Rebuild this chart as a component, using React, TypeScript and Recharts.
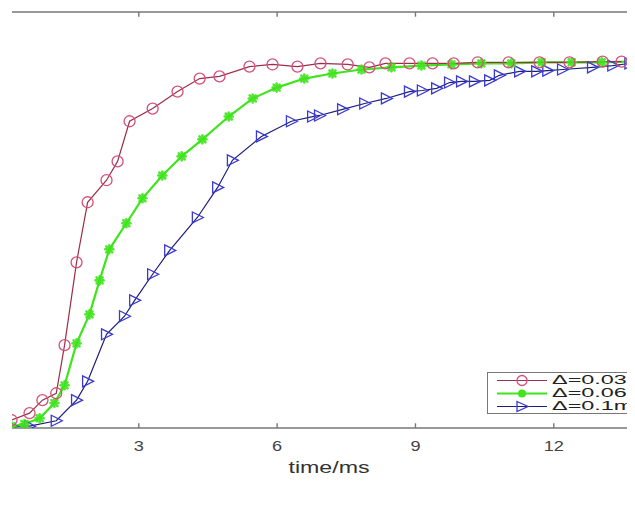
import React from "react";
import { LineChart, Line, XAxis, YAxis, ReferenceLine } from "recharts";

// step response for three sampling intervals
const xRed = [0.24, 0.63, 0.91, 1.21, 1.39, 1.65, 1.89, 2.3, 2.54, 2.8, 3.3, 3.84, 4.32, 4.75, 5.4, 5.9, 6.44, 6.94, 7.53, 8.0, 8.35, 8.87, 9.37, 9.83, 10.35, 11.02, 11.69, 12.34, 13.06, 13.47];
const yRed = [0.017, 0.036, 0.072, 0.091, 0.224, 0.453, 0.619, 0.68, 0.732, 0.843, 0.878, 0.925, 0.961, 0.967, 0.994, 1.0, 0.994, 1.003, 1.0, 0.992, 1.003, 1.003, 1.003, 1.003, 1.006, 1.006, 1.006, 1.006, 1.008, 1.008];

const xGreen = [0.24, 0.52, 0.85, 1.17, 1.39, 1.65, 1.93, 2.15, 2.36, 2.73, 3.08, 3.51, 3.93, 4.38, 4.95, 5.47, 5.99, 6.59, 7.2, 7.83, 8.48, 9.13, 9.78, 10.43, 11.08, 11.74, 12.39, 13.04, 13.69];
const yGreen = [0.0, 0.006, 0.022, 0.064, 0.113, 0.229, 0.309, 0.403, 0.489, 0.561, 0.63, 0.693, 0.746, 0.793, 0.856, 0.906, 0.936, 0.961, 0.975, 0.986, 0.992, 0.997, 1.0, 1.003, 1.003, 1.006, 1.006, 1.006, 1.008];

const xBlue = [0.24, 0.63, 1.21, 1.65, 1.89, 2.3, 2.69, 2.91, 3.3, 3.67, 4.27, 4.71, 5.03, 5.66, 6.31, 6.77, 6.92, 7.42, 7.9, 8.37, 8.87, 9.15, 9.46, 9.74, 10.0, 10.28, 10.61, 10.82, 11.26, 11.63, 11.87, 12.19, 12.84, 13.28, 13.65];
const yBlue = [0.0, 0.0, 0.015, 0.072, 0.124, 0.254, 0.304, 0.348, 0.42, 0.486, 0.577, 0.66, 0.735, 0.801, 0.843, 0.856, 0.859, 0.876, 0.892, 0.906, 0.925, 0.928, 0.934, 0.95, 0.953, 0.953, 0.956, 0.97, 0.981, 0.981, 0.983, 0.986, 0.992, 0.997, 1.003];

const xTicks = [3, 6, 9, 12];
const seriesNames = ["Δ=0.03ms", "Δ=0.06ms", "Δ=0.1ms"];

const X_DOMAIN: [number, number] = [0.25, 14];
const Y_DOMAIN: [number, number] = [-0.005, 1.145];
const TICK_LEN = 0.013; // inward tick length in y units (~5px)

const toRows = (xs: number[], ys: number[]) => xs.map((t, i) => ({ t, v: ys[i] }));

const FONT = "'Liberation Sans', Arial, sans-serif";
const AXIS = "#777";
const RED_LINE = "#9a2f48";
const RED_MARK = "#d4507a";
const GREEN = "#3fe41c";
const BLUE_LINE = "#1d1d7a";
const BLUE_MARK = "#3a3ad0";

const circleDot = (p: any) => (
  <circle key={`r${p.index}`} cx={p.cx} cy={p.cy} r={5.5} fill="none" stroke={RED_MARK} strokeWidth={1.3} />
);

const starDot = (p: any) => (
  <g key={`g${p.index}`} stroke={GREEN} strokeWidth={2.6} strokeLinecap="round" opacity={0.9}>
    <line x1={p.cx - 4} y1={p.cy} x2={p.cx + 4} y2={p.cy} />
    <line x1={p.cx} y1={p.cy - 4} x2={p.cx} y2={p.cy + 4} />
    <line x1={p.cx - 3} y1={p.cy - 3} x2={p.cx + 3} y2={p.cy + 3} />
    <line x1={p.cx - 3} y1={p.cy + 3} x2={p.cx + 3} y2={p.cy - 3} />
  </g>
);

const triDot = (p: any) => (
  <polygon
    key={`b${p.index}`}
    points={`${p.cx - 5},${p.cy - 5.5} ${p.cx + 6},${p.cy} ${p.cx - 5},${p.cy + 5.5}`}
    fill="none"
    stroke={BLUE_MARK}
    strokeWidth={1.3}
  />
);

// the figure is stretched sideways, so the text is too
const WideTick = (p: any) => (
  <g transform={`translate(${p.x},${p.y})`}>
    <text transform="scale(1.3,1)" x={0} y={0} dy={12} textAnchor="middle" fontSize={14} fill="#444" fontFamily={FONT}>
      {p.payload.value}
    </text>
  </g>
);

const WideLabel = (p: any) => {
  const vb = p.viewBox;
  return (
    <g transform={`translate(${vb.x + vb.width / 2},${vb.y + 45})`}>
      <text transform="scale(1.45,1)" textAnchor="middle" fontSize={16} fill="#333" fontFamily={FONT}>
        time/ms
      </text>
    </g>
  );
};

function LegendBox() {
  const rows = [
    { name: seriesNames[0], line: RED_LINE, mark: <circle cx={25} cy={6.5} r={5} fill="none" stroke={RED_MARK} strokeWidth={1.3} /> },
    { name: seriesNames[1], line: GREEN, mark: <circle cx={25} cy={6.5} r={4} fill={GREEN} /> },
    { name: seriesNames[2], line: BLUE_LINE, mark: <polygon points="20,1.5 31,6.5 20,11.5" fill="none" stroke={BLUE_MARK} strokeWidth={1.3} /> },
  ];
  return (
    <div
      style={{
        position: "absolute",
        left: 487,
        top: 372,
        width: 190,
        height: 42,
        border: "1.5px solid #777",
        background: "#fff",
        boxSizing: "border-box",
        padding: "1px 0 0 9px",
        fontFamily: FONT,
        fontSize: 12,
        color: "#222",
        lineHeight: "13px",
      }}
    >
      {rows.map((r) => (
        <div key={r.name} style={{ display: "flex", alignItems: "center", height: 13 }}>
          <svg width={50} height={13}>
            <line x1={0} y1={6.5} x2={50} y2={6.5} stroke={r.line} strokeWidth={r.line === GREEN ? 2 : 1.2} />
            {r.mark}
          </svg>
          <span
            style={{
              marginLeft: 5,
              display: "inline-block",
              whiteSpace: "nowrap",
              transform: "scaleX(1.95)",
              transformOrigin: "left center",
            }}
          >
            {r.name}
          </span>
        </div>
      ))}
    </div>
  );
}

export default function App() {
  return (
    <div style={{ margin: -8, width: 635, height: 508, overflow: "hidden", position: "relative", background: "#fff" }}>
      <LineChart width={660} height={508} margin={{ top: 12, right: 14, left: 12, bottom: 20 }}>
        <XAxis
          xAxisId="b"
          type="number"
          dataKey="t"
          domain={X_DOMAIN}
          ticks={xTicks}
          allowDataOverflow
          height={60}
          tickSize={0}
          tickMargin={11}
          axisLine={false}
          tickLine={false}
          tick={WideTick}
          label={WideLabel}
        />
        <YAxis hide type="number" domain={Y_DOMAIN} allowDataOverflow />
        {/* box frame: bottom and top axes */}
        <ReferenceLine xAxisId="b" y={Y_DOMAIN[0]} stroke={AXIS} strokeWidth={1.6} ifOverflow="visible" />
        <ReferenceLine xAxisId="b" y={Y_DOMAIN[1]} stroke={AXIS} strokeWidth={1.6} ifOverflow="visible" />
        {xTicks.map((t) => (
          <ReferenceLine
            key={`bt${t}`}
            xAxisId="b"
            segment={[{ x: t, y: Y_DOMAIN[0] }, { x: t, y: Y_DOMAIN[0] + TICK_LEN }]}
            stroke={AXIS}
            strokeWidth={1.4}
            ifOverflow="visible"
          />
        ))}
        {xTicks.map((t) => (
          <ReferenceLine
            key={`tt${t}`}
            xAxisId="b"
            segment={[{ x: t, y: Y_DOMAIN[1] }, { x: t, y: Y_DOMAIN[1] - TICK_LEN }]}
            stroke={AXIS}
            strokeWidth={1.4}
            ifOverflow="visible"
          />
        ))}
        <Line
          xAxisId="b"
          data={toRows(xBlue, yBlue)}
          dataKey="v"
          name={seriesNames[2]}
          stroke={BLUE_LINE}
          strokeWidth={1.2}
          dot={triDot}
          isAnimationActive={false}
        />
        <Line
          xAxisId="b"
          data={toRows(xGreen, yGreen)}
          dataKey="v"
          name={seriesNames[1]}
          stroke={GREEN}
          strokeWidth={2.2}
          dot={starDot}
          isAnimationActive={false}
        />
        <Line
          xAxisId="b"
          data={toRows(xRed, yRed)}
          dataKey="v"
          name={seriesNames[0]}
          stroke={RED_LINE}
          strokeWidth={1.2}
          dot={circleDot}
          isAnimationActive={false}
        />
      </LineChart>
      <LegendBox />
    </div>
  );
}
